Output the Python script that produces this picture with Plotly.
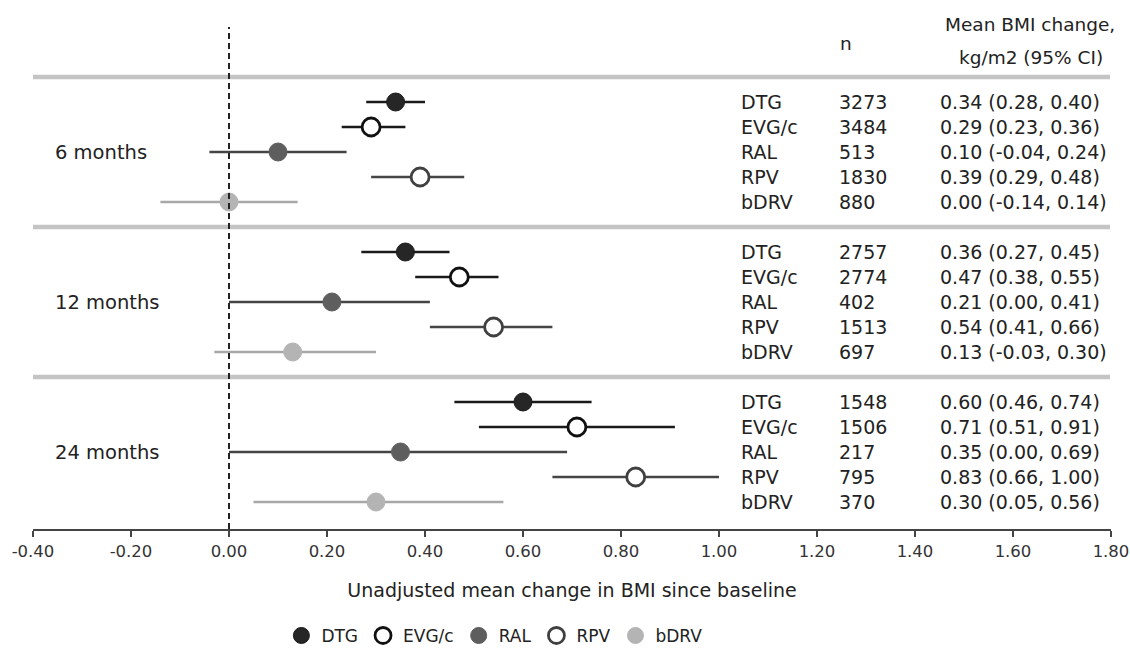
import plotly.graph_objects as go

# ---------------- data ----------------
drugs = ["DTG", "EVG/c", "RAL", "RPV", "bDRV"]
periods = ["6 months", "12 months", "24 months"]

n_6m = [3273, 3484, 513, 1830, 880]
n_12m = [2757, 2774, 402, 1513, 697]
n_24m = [1548, 1506, 217, 795, 370]

mean_6m = [0.34, 0.29, 0.10, 0.39, 0.00]
mean_12m = [0.36, 0.47, 0.21, 0.54, 0.13]
mean_24m = [0.60, 0.71, 0.35, 0.83, 0.30]

lower_6m = [0.28, 0.23, -0.04, 0.29, -0.14]
lower_12m = [0.27, 0.38, 0.00, 0.41, -0.03]
lower_24m = [0.46, 0.51, 0.00, 0.66, 0.05]

upper_6m = [0.40, 0.36, 0.24, 0.48, 0.14]
upper_12m = [0.45, 0.55, 0.41, 0.66, 0.30]
upper_24m = [0.74, 0.91, 0.69, 1.00, 0.56]

tick_vals = [-0.4, -0.2, 0.0, 0.2, 0.4, 0.6, 0.8, 1.0, 1.2, 1.4, 1.6, 1.8]
tick_text = ["-0.40", "-0.20", "0.00", "0.20", "0.40", "0.60", "0.80",
             "1.00", "1.20", "1.40", "1.60", "1.80"]

n_all = [n_6m, n_12m, n_24m]
mean_all = [mean_6m, mean_12m, mean_24m]
lower_all = [lower_6m, lower_12m, lower_24m]
upper_all = [upper_6m, upper_12m, upper_24m]

# ---------------- styles ----------------
FONT = "DejaVu Sans"
TXT = "#222222"
fill_col = ["#262626", "#ffffff", "#5e5e5e", "#ffffff", "#b4b4b4"]
edge_col = ["#1a1a1a", "#111111", "#5e5e5e", "#404040", "#b4b4b4"]
edge_w = [1, 2.8, 1, 2.8, 1]
bar_col = ["#1a1a1a", "#1a1a1a", "#454545", "#454545", "#a8a8a8"]


def row_y(g, i):
    return 3 + 6 * g + i


fig = go.Figure()

for i, d in enumerate(drugs):
    xs, ys, ep, em = [], [], [], []
    for g in range(len(periods)):
        m = mean_all[g][i]
        xs.append(m)
        ys.append(row_y(g, i))
        ep.append(upper_all[g][i] - m)
        em.append(m - lower_all[g][i])
    fig.add_trace(go.Scatter(
        x=xs, y=ys, mode="markers", name=d,
        marker=dict(size=18, color=fill_col[i],
                    line=dict(color=edge_col[i], width=edge_w[i])),
        error_x=dict(type="data", symmetric=False, array=ep, arrayminus=em,
                     color=bar_col[i], thickness=2.6, width=0),
        cliponaxis=False,
    ))

# separators and reference line
shapes = []
for g in range(len(periods)):
    yl = 2 + 6 * g
    shapes.append(dict(type="line", xref="x", yref="y", x0=-0.4, x1=1.798,
                       y0=yl, y1=yl, line=dict(color="#c4c4c4", width=4.5),
                       layer="below"))
shapes.append(dict(type="line", xref="x", yref="paper", x0=0, x1=0,
                   y0=0, y1=1, line=dict(color="#222222", width=2,
                                         dash="6px,4px")))

annotations = []
x_name = 1.041
x_n = 1.241
x_ci = 1.447
for g, p in enumerate(periods):
    annotations.append(dict(x=-0.359, y=5 + 6 * g, xref="x", yref="y",
                            text=p, showarrow=False, xanchor="left",
                            yanchor="middle",
                            font=dict(family=FONT, size=19.5, color=TXT)))
    for i, d in enumerate(drugs):
        y = row_y(g, i)
        ci = f"{mean_all[g][i]:.2f} ({lower_all[g][i]:.2f}, {upper_all[g][i]:.2f})"
        for xx, t in [(x_name, d), (x_n, str(n_all[g][i])), (x_ci, ci)]:
            annotations.append(dict(x=xx, y=y, xref="x", yref="y", text=t,
                                    showarrow=False, xanchor="left",
                                    yanchor="middle",
                                    font=dict(family=FONT, size=19, color=TXT)))

annotations.append(dict(x=1.243, y=0.968, xref="x", yref="paper", text="n",
                        showarrow=False, xanchor="left", yanchor="middle",
                        font=dict(family=FONT, size=18.5, color=TXT)))
annotations.append(dict(x=1.635, y=1.004, xref="x", yref="paper",
                        text="Mean BMI change,", showarrow=False,
                        xanchor="center", yanchor="middle",
                        font=dict(family=FONT, size=18.5, color=TXT)))
annotations.append(dict(x=1.637, y=0.940, xref="x", yref="paper",
                        text="kg/m2 (95% CI)", showarrow=False,
                        xanchor="center", yanchor="middle",
                        font=dict(family=FONT, size=18.5, color=TXT)))

fig.update_layout(
    width=1130, height=656,
    margin=dict(l=33, r=19, t=27, b=127, autoexpand=False),
    paper_bgcolor="white", plot_bgcolor="white",
    font=dict(family=FONT, color=TXT),
    shapes=shapes, annotations=annotations,
    showlegend=True,
    legend=dict(orientation="h", x=0.428, y=-0.213, xanchor="center",
                yanchor="middle", font=dict(family=FONT, size=17, color=TXT),
                itemwidth=30, tracegroupgap=0),
    xaxis=dict(range=[-0.4, 1.8], tickvals=tick_vals, ticktext=tick_text,
               automargin=False,
               showgrid=False, zeroline=False, showline=True,
               linecolor="#444444", linewidth=2, ticks="outside",
               ticklen=6, tickwidth=2, tickcolor="#444444",
               ticklabeloverflow="allow",
               tickfont=dict(family=FONT, size=16.5, color="#333333"),
               title=dict(text="Unadjusted mean change in BMI since baseline",
                          font=dict(family=FONT, size=19, color=TXT),
                          standoff=24)),
    yaxis=dict(range=[20.08, 0], visible=False, showgrid=False,
               zeroline=False, automargin=False),
)

fig.write_html(
    "out.html",
    config={"displayModeBar": False},
    post_script=("document.body.style.margin='0px';"
                 "document.documentElement.style.overflow='hidden';"),
)
